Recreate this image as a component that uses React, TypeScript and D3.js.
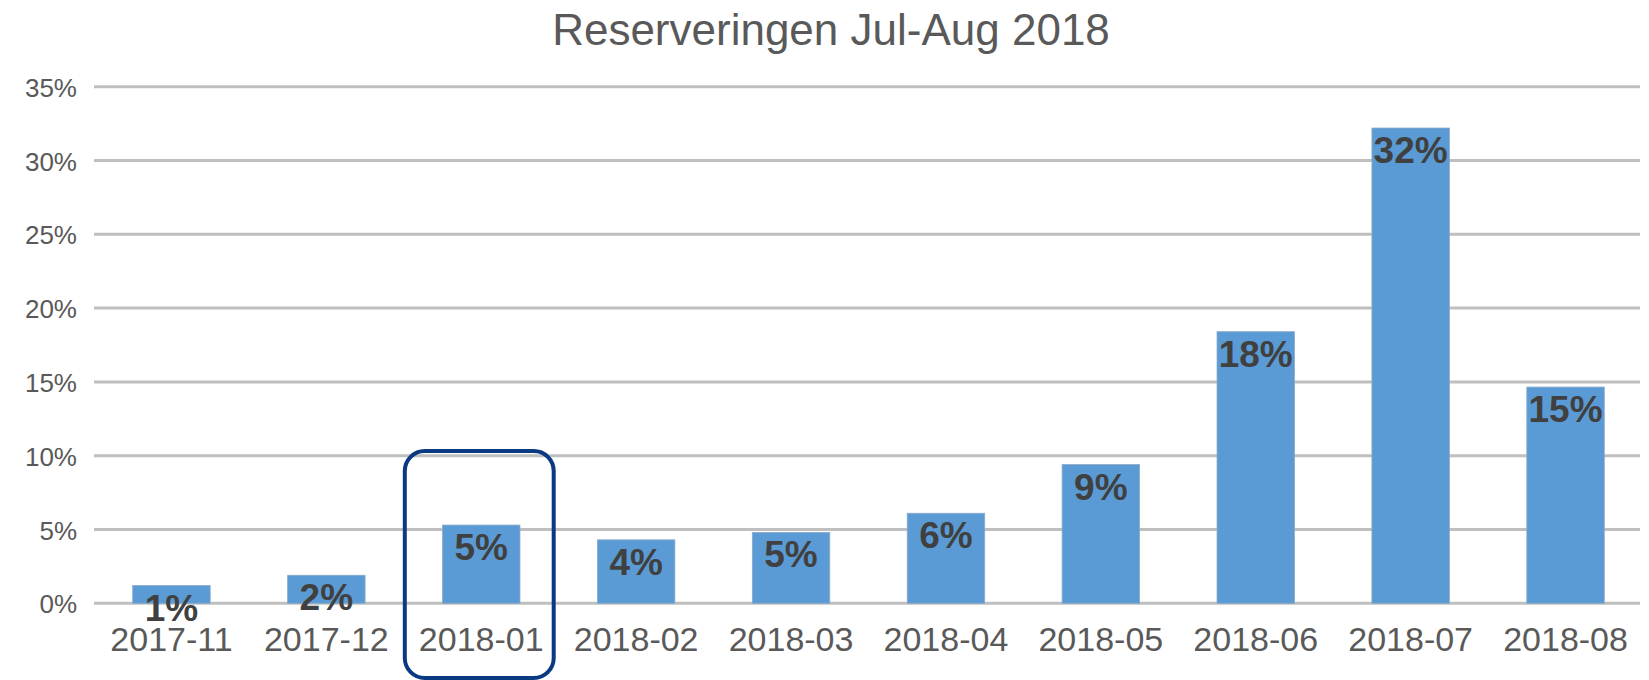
import React, { useRef, useEffect } from "react";
import * as d3 from "d3";

const months = [
  "2017-11",
  "2017-12",
  "2018-01",
  "2018-02",
  "2018-03",
  "2018-04",
  "2018-05",
  "2018-06",
  "2018-07",
  "2018-08",
];
const shares = [1.2, 1.9, 5.3, 4.3, 4.8, 6.1, 9.4, 18.4, 32.2, 14.65];
const yTicks = [0, 5, 10, 15, 20, 25, 30, 35];
const highlighted = "2018-01";
const title = "Reserveringen Jul-Aug 2018";

const App = () => {
  const ref = useRef<SVGSVGElement>(null);
  const width = 1649;
  const height = 680;

  useEffect(() => {
    const svg = d3.select(ref.current);
    svg.selectAll("*").remove();

    const margin = { top: 87, right: 6, bottom: 77, left: 94 };
    const innerWidth = width - margin.left - margin.right;

    const x = d3
      .scaleBand()
      .domain(months)
      .range([margin.left, margin.left + innerWidth])
      .paddingInner(0.5)
      .paddingOuter(0.25);

    const y = d3
      .scaleLinear()
      .domain([0, 35])
      .range([height - margin.bottom + 0.3, margin.top - 0.3]);

    const font = "'Liberation Sans', Arial, sans-serif";

    // title
    svg
      .append("text")
      .attr("x", 831)
      .attr("y", 45)
      .attr("text-anchor", "middle")
      .attr("font-family", font)
      .attr("font-size", 44)
      .attr("fill", "#595959")
      .text(title);

    // gridlines
    svg
      .append("g")
      .selectAll("line")
      .data(yTicks)
      .join("line")
      .attr("x1", margin.left)
      .attr("x2", margin.left + innerWidth - 3)
      .attr("y1", (d) => y(d))
      .attr("y2", (d) => y(d))
      .attr("stroke", "#bfbfbf")
      .attr("stroke-width", 3);

    // y tick labels
    svg
      .append("g")
      .selectAll("text")
      .data(yTicks)
      .join("text")
      .attr("x", 77)
      .attr("y", (d) => y(d) + 10)
      .attr("text-anchor", "end")
      .attr("font-family", font)
      .attr("font-size", 26)
      .attr("fill", "#595959")
      .text((d) => `${d}%`);

    const data = months.map((m, i) => ({ month: m, value: shares[i] }));

    // bars
    svg
      .append("g")
      .selectAll("rect")
      .data(data)
      .join("rect")
      .attr("x", (d) => x(d.month)!)
      .attr("width", x.bandwidth())
      .attr("y", (d) => y(d.value))
      .attr("height", (d) => y(0) - y(d.value))
      .attr("fill", "#5b9bd5")
      .attr("stroke", "#8aa9c8")
      .attr("stroke-width", 0.8);

    // data labels
    svg
      .append("g")
      .selectAll("text")
      .data(data)
      .join("text")
      .attr("x", (d) => x(d.month)! + x.bandwidth() / 2)
      .attr("y", (d) => y(d.value) + 35)
      .attr("text-anchor", "middle")
      .attr("font-family", font)
      .attr("font-size", 37)
      .attr("font-weight", "bold")
      .attr("fill", "#404040")
      .text((d) => `${Math.round(d.value)}%`);

    // x labels
    svg
      .append("g")
      .selectAll("text")
      .data(months)
      .join("text")
      .attr("x", (d) => x(d)! + x.bandwidth() / 2)
      .attr("y", 651)
      .attr("text-anchor", "middle")
      .attr("font-family", font)
      .attr("font-size", 34)
      .attr("fill", "#595959")
      .text((d) => d);

    // highlight box
    const step = x.step();
    const hx = x(highlighted)! + x.bandwidth() / 2;
    svg
      .append("rect")
      .attr("x", hx - step / 2 + 1)
      .attr("y", 451)
      .attr("width", step - 6)
      .attr("height", 227)
      .attr("rx", 20)
      .attr("fill", "none")
      .attr("stroke", "#0b3a82")
      .attr("stroke-width", 4);
  }, []);

  return (
    <svg
      ref={ref}
      width={width}
      height={height}
      style={{ position: "absolute", left: 0, top: 0, background: "#fff" }}
    ></svg>
  );
};

export default App;
